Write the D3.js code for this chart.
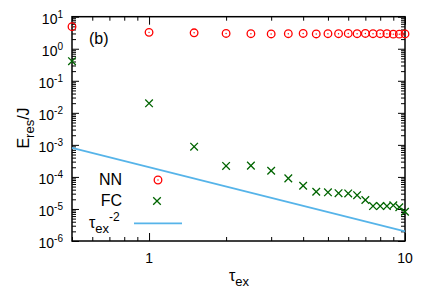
<!DOCTYPE html>
<html>
<head>
<meta charset="utf-8">
<script src="https://cdn.jsdelivr.net/npm/d3@7"></script>
<style>
  body { margin: 0; background: #fff; }
  text { font-family: "Liberation Sans", Arial, sans-serif; }
</style>
</head>
<body>
<div id="chart"></div>
<script>
var tau = [0.5, 1, 1.5, 2, 2.5, 3, 3.5, 4, 4.5, 5, 5.5, 6, 6.5, 7, 7.5, 8, 8.5, 9, 9.5, 10];
var nnValues = [4.9, 3.25, 3.15, 3.0, 2.95, 2.9, 2.95, 3.0, 2.9, 2.95, 2.95, 3.0, 2.95, 3.0, 2.95, 2.95, 2.95, 2.85, 2.85, 2.9];
var fcValues = [0.41, 0.0198, 8.8e-4, 2.2e-4, 2.25e-4, 1.56e-4, 9.0e-5, 5.3e-5, 3.45e-5, 3.3e-5, 3.1e-5, 3.05e-5, 2.7e-5, 1.9e-5, 1.23e-5, 1.23e-5, 1.23e-5, 1.3e-5, 1.13e-5, 8.2e-6];
var powerLawX = [0.5, 10];
var powerLawC = 2e-4;   // E = C * tau^-2
var xMajor = [1, 10];
var xMinor = [0.5, 0.6, 0.7, 0.8, 0.9, 2, 3, 4, 5, 6, 7, 8, 9];
var yExp = [-6, -5, -4, -3, -2, -1, 0, 1];

function init(){
    var w = 436, h = 305;
    var left = 72, right = 405, top = 16.7, bottom = 241;

    var x = d3.scaleLog().domain([0.5, 10]).range([left, right]);
    var y = d3.scaleLog().domain([1e-6, 10]).range([bottom, top]);

    var yMajor = yExp.map(function(e){ return Math.pow(10, e); });
    var yMinor = [];
    yExp.slice(0, -1).forEach(function(e){
        for (var k = 2; k <= 9; k++) yMinor.push(k * Math.pow(10, e));
    });

    var svg = d3.select("#chart").append("svg")
        .attr("width", w).attr("height", h);

    // ticks on all four sides, pointing inward
    function ticks(axisFn, scale, vals, len, tr){
        svg.append("g")
            .attr("transform", tr)
            .call(axisFn(scale).tickValues(vals).tickSizeInner(-len).tickSizeOuter(0).tickFormat(""))
            .call(function(g){
                g.select(".domain").remove();
                g.selectAll("line").attr("stroke", "#000").attr("stroke-width", 1);
            });
    }
    ticks(d3.axisBottom, x, xMajor, 8, "translate(0," + bottom + ")");
    ticks(d3.axisBottom, x, xMinor, 4, "translate(0," + bottom + ")");
    ticks(d3.axisTop, x, xMajor, 8, "translate(0," + top + ")");
    ticks(d3.axisTop, x, xMinor, 4, "translate(0," + top + ")");
    ticks(d3.axisLeft, y, yMajor, 7, "translate(" + left + ",0)");
    ticks(d3.axisLeft, y, yMinor, 4, "translate(" + left + ",0)");
    ticks(d3.axisRight, y, yMajor, 7, "translate(" + right + ",0)");
    ticks(d3.axisRight, y, yMinor, 4, "translate(" + right + ",0)");

    svg.append("rect")
        .attr("x", left).attr("y", top)
        .attr("width", right - left).attr("height", bottom - top)
        .attr("fill", "none").attr("stroke", "#000").attr("stroke-width", 1.5);

    // y tick labels 10^n
    var yl = svg.append("g").selectAll("text").data(yExp).enter().append("text")
        .attr("x", 63)
        .attr("y", function(d){ return y(Math.pow(10, d)) + 7; })
        .attr("text-anchor", "end")
        .attr("font-size", 14);
    yl.append("tspan").text("10");
    yl.append("tspan").attr("dy", -6).attr("font-size", 10).text(function(d){ return d; });

    // x tick labels
    svg.append("g").selectAll("text").data(xMajor).enter().append("text")
        .attr("x", function(d){ return x(d); })
        .attr("y", 263)
        .attr("text-anchor", "middle")
        .attr("font-size", 14)
        .text(function(d){ return d; });

    // axis titles
    var xt = svg.append("text").attr("x", 239).attr("y", 281)
        .attr("text-anchor", "middle").attr("font-size", 16);
    xt.append("tspan").text("τ");
    xt.append("tspan").attr("dy", 5).attr("font-size", 13).text("ex");

    var yt = svg.append("text")
        .attr("transform", "translate(29,128) rotate(-90)")
        .attr("text-anchor", "middle").attr("font-size", 16);
    yt.append("tspan").text("E");
    yt.append("tspan").attr("dy", 5).attr("font-size", 13).text("res");
    yt.append("tspan").attr("dy", -5).text("/J");

    svg.append("text").attr("x", 89).attr("y", 44).attr("font-size", 16).text("(b)");

    // tau^-2 line
    svg.append("path")
        .datum(powerLawX)
        .attr("fill", "none").attr("stroke", "#56b4e9").attr("stroke-width", 1.8)
        .attr("d", d3.line()
            .x(function(d){ return x(d); })
            .y(function(d){ return y(powerLawC / (d * d)); }));

    function circleMark(g){
        g.append("circle").attr("r", 3.8).attr("fill", "none")
            .attr("stroke", "#ff0000").attr("stroke-width", 1.3);
        g.append("circle").attr("r", 0.7).attr("fill", "#ff0000");
    }
    function crossMark(g){
        g.append("path").attr("d", "M-3.8,-3.8L3.8,3.8M-3.8,3.8L3.8,-3.8")
            .attr("stroke", "#006400").attr("stroke-width", 1.3).attr("fill", "none");
    }

    var nn = tau.map(function(t, i){ return [t, nnValues[i]]; });
    var fc = tau.map(function(t, i){ return [t, fcValues[i]]; });

    svg.append("g").selectAll("g").data(nn).enter().append("g")
        .attr("transform", function(d){ return "translate(" + x(d[0]) + "," + y(d[1]) + ")"; })
        .each(function(){ circleMark(d3.select(this)); });

    svg.append("g").selectAll("g").data(fc).enter().append("g")
        .attr("transform", function(d){ return "translate(" + x(d[0]) + "," + y(d[1]) + ")"; })
        .each(function(){ crossMark(d3.select(this)); });

    // legend
    svg.append("text").attr("x", 122).attr("y", 185).attr("text-anchor", "end")
        .attr("font-size", 16).text("NN");
    circleMark(svg.append("g").attr("transform", "translate(158,180)"));
    svg.append("text").attr("x", 122).attr("y", 206).attr("text-anchor", "end")
        .attr("font-size", 16).text("FC");
    crossMark(svg.append("g").attr("transform", "translate(157,201)"));

    var lt = svg.append("text").attr("x", 89).attr("y", 228).attr("font-size", 16);
    lt.append("tspan").text("τ");
    lt.append("tspan").attr("dy", 5).attr("font-size", 13).text("ex");
    lt.append("tspan").attr("dy", -12).attr("font-size", 12).text("-2");
    svg.append("line").attr("x1", 134).attr("x2", 182).attr("y1", 223.3).attr("y2", 223.3)
        .attr("stroke", "#56b4e9").attr("stroke-width", 1.8);
}
window.onload = init;
</script>
</body>
</html>
